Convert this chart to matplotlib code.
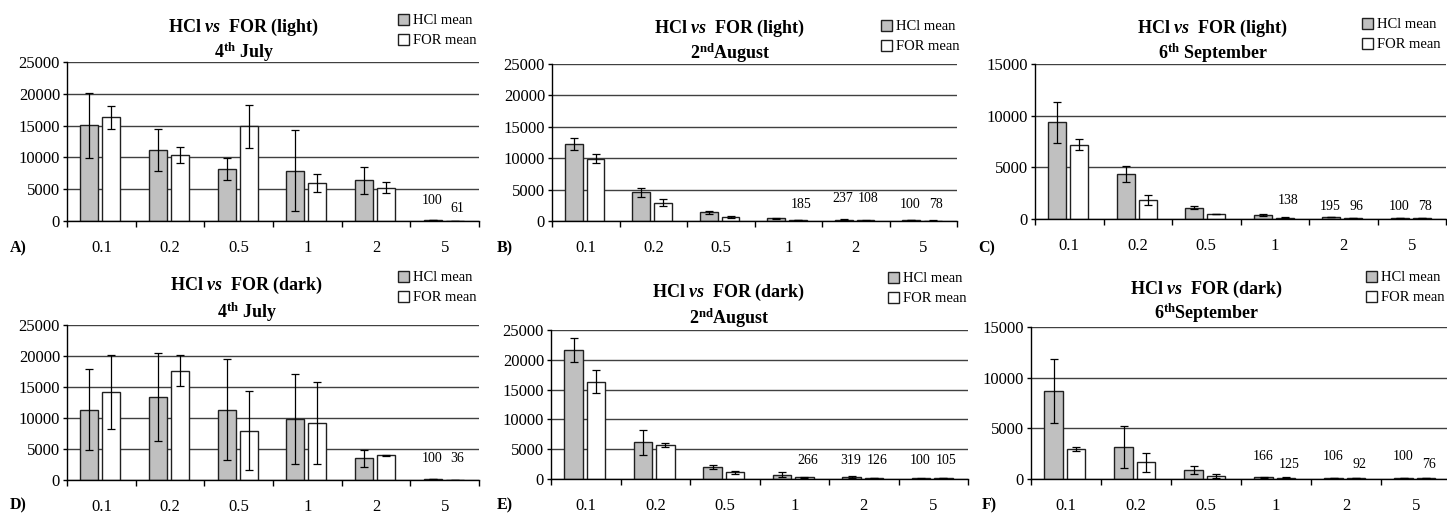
import matplotlib
matplotlib.use('Agg')
import matplotlib.pyplot as plt
import numpy as np
from matplotlib.ticker import FixedLocator, NullFormatter, FixedFormatter, MultipleLocator

plt.rcParams['font.family'] = ['Liberation Serif', 'DejaVu Serif']
plt.rcParams['mathtext.fontset'] = 'custom'
plt.rcParams['mathtext.rm'] = 'Liberation Serif:bold'
plt.rcParams['mathtext.it'] = 'Liberation Serif:italic:bold'
plt.rcParams['mathtext.bf'] = 'Liberation Serif:bold'

# ---------------- data ----------------
categories = ['0.1', '0.2', '0.5', '1', '2', '5']
series_names = ['HCl mean', 'FOR mean']

A_hcl = [15050, 11160, 8160, 7900, 6370, 100]
A_hcl_err = [5080, 3320, 1740, 6370, 2180, 0]
A_for = [16320, 10320, 14900, 5950, 5260, 61]
A_for_err = [1815, 1260, 3370, 1370, 920, 0]

B_hcl = [12290, 4570, 1380, 425, 237, 100]
B_hcl_err = [930, 700, 290, 100, 60, 20]
B_for = [9950, 2930, 640, 185, 108, 78]
B_for_err = [770, 580, 130, 40, 30, 15]

C_hcl = [9380, 4330, 1100, 388, 195, 100]
C_hcl_err = [1990, 760, 120, 50, 40, 20]
C_for = [7180, 1840, 453, 138, 96, 78]
C_for_err = [550, 480, 0, 30, 20, 15]

D_hcl = [11340, 13340, 11340, 9830, 3510, 100]
D_hcl_err = [6540, 7070, 8150, 7290, 1400, 0]
D_for = [14260, 17660, 7940, 9180, 4000, 36]
D_for_err = [5960, 2560, 6400, 6560, 80, 0]

E_hcl = [21640, 6150, 2070, 722, 319, 100]
E_hcl_err = [1960, 2100, 360, 390, 120, 20]
E_for = [16330, 5710, 1120, 266, 126, 105]
E_for_err = [1900, 360, 280, 60, 30, 20]

F_hcl = [8680, 3160, 890, 166, 106, 100]
F_hcl_err = [3170, 2040, 380, 40, 20, 30]
F_for = [2990, 1650, 296, 125, 92, 76]
F_for_err = [180, 950, 180, 40, 20, 20]

titles_line1 = [r'HCl $\mathit{vs}$  FOR (light)'] * 3 + [r'HCl $\mathit{vs}$  FOR (dark)'] * 3
titles_line2 = [r'4$^{\mathrm{th}}$ July', r'2$^{\mathrm{nd}}$August', r'6$^{\mathrm{th}}$ September',
                r'4$^{\mathrm{th}}$ July', r'2$^{\mathrm{nd}}$August', r'6$^{\mathrm{th}}$September']
panel_letters = ['A)', 'B)', 'C)', 'D)', 'E)', 'F)']
y_max = [25000, 25000, 15000, 25000, 25000, 15000]

data = [
    (A_hcl, A_hcl_err, A_for, A_for_err),
    (B_hcl, B_hcl_err, B_for, B_for_err),
    (C_hcl, C_hcl_err, C_for, C_for_err),
    (D_hcl, D_hcl_err, D_for, D_for_err),
    (E_hcl, E_hcl_err, E_for, E_for_err),
    (F_hcl, F_hcl_err, F_for, F_for_err),
]

# ---------------- layout (pixels) ----------------
W, H = 1447, 514
axes_px = [(67, 62, 479, 221), (552, 64, 957, 221), (1035, 64, 1446, 219),
           (67, 325, 479, 480), (551, 330, 968, 479), (1031, 327, 1451, 479)]
legend_px = [(398, 14), (881, 20), (1362, 18), (398, 271), (888, 272), (1366, 271)]
title_px = [(244, 32, 58), (730, 33, 59), (1213, 33, 59),
            (247, 290, 318), (729, 297, 324), (1207, 294, 319)]
letter_px = [(10, 248), (497, 248), (978, 248), (10, 505), (497, 505), (982, 505)]
# label heights above the axis (px) for labelled bars: (series, category) -> px
label_rise = [
    {(0, 5): 21, (1, 5): 13},
    {(1, 3): 17, (0, 4): 22, (1, 4): 22, (0, 5): 17, (1, 5): 17},
    {(1, 3): 18, (0, 4): 12, (1, 4): 12, (0, 5): 12, (1, 5): 12},
    {(0, 5): 21, (1, 5): 21},
    {(1, 3): 19, (0, 4): 19, (1, 4): 19, (0, 5): 19, (1, 5): 19},
    {(0, 3): 23, (1, 3): 15, (0, 4): 23, (1, 4): 15, (0, 5): 23, (1, 5): 15},
]
label_shift = [-1, 3]  # px, per series

fig = plt.figure(figsize=(W / 100, H / 100), dpi=100)
px2pt = 72 / 100

offsets = [-0.175, 0.145]
bar_w = 0.265
face = ['#c0c0c0', 'white']
x = np.arange(len(categories))

for i in range(6):
    l, t, r, b = axes_px[i]
    ax = fig.add_axes([l / W, 1 - b / H, (r - l) / W, (b - t) / H])
    hv, he, fv, fe = data[i]
    conts = []
    for s, (vals, errs) in enumerate([(hv, he), (fv, fe)]):
        c = ax.bar(x + offsets[s], vals, width=bar_w, color=face[s], edgecolor='#202020',
                   linewidth=1.0, label=series_names[s], zorder=2)
        conts.append(c)
        ax.errorbar(x + offsets[s], vals, yerr=errs, fmt='none', ecolor='black',
                    elinewidth=0.9, capsize=3.2, capthick=0.9, zorder=3)
        for ci, v in enumerate(vals):
            if (s, ci) in label_rise[i]:
                ax.annotate(str(v), xy=(x[ci] + offsets[s], 0), xycoords=ax.get_xaxis_transform(),
                            xytext=(label_shift[s] * px2pt, label_rise[i][(s, ci)] * px2pt),
                            textcoords='offset points',
                            ha='center', va='center', fontsize=10)
    ax.set_xlim(-0.5, len(categories) - 0.5)
    ax.set_ylim(0, y_max[i])
    ax.yaxis.set_major_locator(MultipleLocator(5000))
    ax.set_axisbelow(True)
    ax.yaxis.grid(True, color='#404040', linewidth=1.0)
    for sp in ['top', 'right']:
        ax.spines[sp].set_visible(False)
    ax.spines['left'].set_linewidth(1.0)
    ax.spines['bottom'].set_linewidth(1.0)
    ax.xaxis.set_major_locator(FixedLocator(np.arange(-0.5, len(categories), 1.0)))
    ax.xaxis.set_major_formatter(NullFormatter())
    ax.xaxis.set_minor_locator(FixedLocator(x))
    ax.xaxis.set_minor_formatter(FixedFormatter(categories))
    ax.tick_params(axis='x', which='major', length=4, width=1.0, direction='out')
    ax.tick_params(axis='x', which='minor', length=0, pad=14, labelsize=12)
    ax.tick_params(axis='y', which='major', length=3, width=1.0, pad=2, labelsize=12)

    lx, ly = legend_px[i]
    ax.legend(handles=conts, loc='upper left', bbox_to_anchor=(lx / W, 1 - ly / H),
              bbox_transform=fig.transFigure, frameon=False, fontsize=10.5,
              handlelength=0.75, handleheight=0.75, handletextpad=0.25,
              labelspacing=0.45, borderpad=0, borderaxespad=0)

    tx, ty1, ty2 = title_px[i]
    fig.text(tx / W, 1 - ty1 / H, titles_line1[i], ha='center', va='baseline',
             fontsize=13, fontweight='bold')
    fig.text(tx / W, 1 - ty2 / H, titles_line2[i], ha='center', va='baseline',
             fontsize=13, fontweight='bold')
    px_, py_ = letter_px[i]
    fig.text(px_ / W, 1 - py_ / H, panel_letters[i], ha='left', va='center',
             fontsize=11.5, fontweight='bold')

fig.savefig('out.png', dpi=100)
